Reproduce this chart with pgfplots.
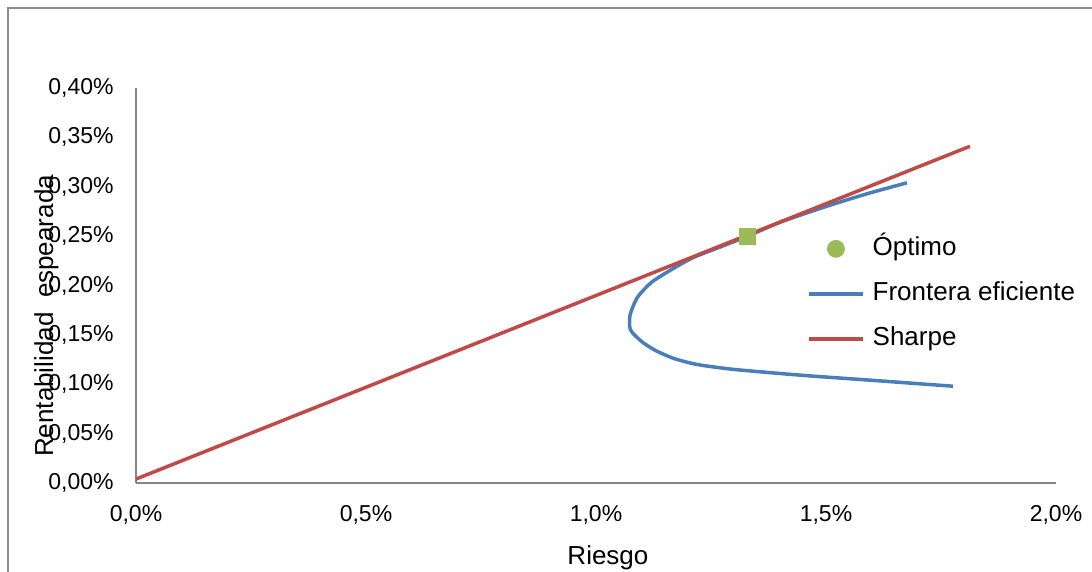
\documentclass[border=0pt]{standalone}
\usepackage{pgfplots}
\pgfplotsset{compat=1.18}
\usepackage{fontspec}
\setmainfont{Liberation Sans}
\definecolor{axgray}{HTML}{868686}
\definecolor{framegray}{HTML}{8C8C8C}
\definecolor{frblue}{HTML}{4A7EBB}
\definecolor{shred}{HTML}{BE4B48}
\definecolor{optgreen}{HTML}{9BBB59}
\begin{document}
\begin{tikzpicture}
\useasboundingbox (0,0) rectangle (546pt,-286pt);
\draw[framegray, line width=1pt] (4pt,-4pt) rectangle (600pt,-330pt);
\begin{axis}[
  at={(68pt,-241.5pt)}, anchor=south west,
  scale only axis, width=460pt, height=197.5pt,
  xmin=0, xmax=2, ymin=0, ymax=0.4,
  axis x line*=bottom, axis y line*=left,
  axis line style={-, draw=axgray, line width=1pt},
  major tick length=0pt,
  xtick={0,0.5,1,1.5,2},
  xticklabels={{0,0\%},{0,5\%},{1,0\%},{1,5\%},{2,0\%}},
  ytick={0,0.05,0.1,0.15,0.2,0.25,0.3,0.35,0.4},
  yticklabels={{0,00\%},{0,05\%},{0,10\%},{0,15\%},{0,20\%},{0,25\%},{0,30\%},{0,35\%},{0,40\%}},
  ticklabel style={font=\fontsize{11.5}{13}\selectfont, inner sep=0pt},
  yticklabel style={anchor=east, xshift=-11pt},
  xticklabel style={anchor=north, yshift=-11pt},
  xlabel={Riesgo},
  ylabel={Rentabilidad~~espearada},
  label style={font=\fontsize{13}{15}\selectfont, inner sep=0pt},
  xlabel style={at={(axis description cs:0.513,0)}, anchor=north, yshift=-31pt},
  ylabel style={at={(axis description cs:-0.09,0.423)}, rotate=0, anchor=base},
  clip=false,
  legend style={at={(axis description cs:0.7226,0.6356)}, anchor=north west,
    draw=none, fill=none, font=\fontsize{13}{15}\selectfont,
    nodes={inner sep=0pt, text height=9.5pt, text depth=3pt},
    row sep=10pt,
    /tikz/every odd column/.append style={column sep=4pt}},
  legend cell align=left,
  legend image code/.code={\draw[#1, line width=1.75pt] (0pt,0pt) -- (27pt,0pt);},
]
\addplot[only marks, mark=square*, mark size=4pt, color=optgreen,
  legend image code/.code={\fill[optgreen] (13.5pt,0pt) circle (4.25pt);}]
  coordinates {(1.33,0.25)};
\addplot[frblue, line width=1.75pt, smooth, tension=0.4] coordinates {
(1.776,0.098) (1.60,0.104) (1.45,0.109) (1.30,0.115) (1.22,0.120)
(1.17,0.126) (1.13,0.134) (1.10,0.143) (1.075,0.155) (1.074,0.170)
(1.09,0.188) (1.12,0.203) (1.16,0.215) (1.21,0.228) (1.27,0.239)
(1.33,0.250) (1.40,0.264) (1.50,0.280) (1.59,0.293) (1.676,0.304)
};
\addplot[shred, line width=1.75pt] coordinates {(0,0.004) (1.813,0.341)};
\legend{Óptimo, Frontera eficiente, Sharpe}
\end{axis}
\end{tikzpicture}
\end{document}
